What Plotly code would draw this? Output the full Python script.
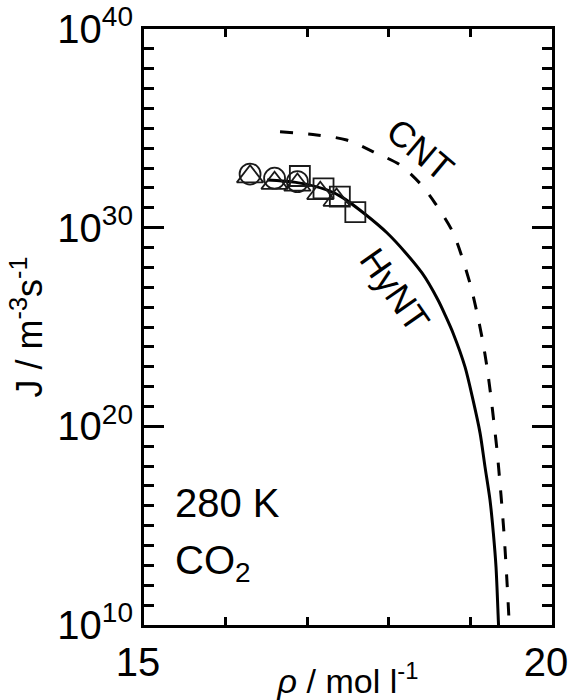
import plotly.graph_objects as go

# HyNT (solid) curve: density (mol/l) vs log10 J
hynt_rho = [16.51, 16.86, 17.24, 17.44, 17.98, 18.407, 18.603, 18.701, 18.787, 18.934, 19.032, 19.118, 19.179, 19.240, 19.281, 19.314, 19.342, 19.35]
hynt_logJ = [32.40, 32.28, 31.90, 31.50, 29.73, 27.72, 26.36, 25.51, 24.70, 22.99, 21.33, 19.67, 17.96, 16.30, 14.64, 12.92, 10.26, 9.5]

# CNT (dashed) curve
cnt_rho = [16.667, 17.116, 17.484, 17.810, 18.137, 18.382, 18.566, 18.790, 18.995, 19.081, 19.148, 19.203, 19.252, 19.289, 19.326, 19.359, 19.387, 19.415, 19.452, 19.473, 19.48]
cnt_logJ = [34.83, 34.67, 34.41, 33.82, 33.16, 32.23, 31.24, 29.73, 27.20, 25.71, 24.35, 22.99, 21.48, 20.17, 18.81, 17.30, 15.94, 14.43, 11.92, 10.26, 9.5]

# simulation points
circ_rho = [16.30, 16.60, 16.88]
circ_logJ = [32.70, 32.49, 32.32]
tri_rho = [16.30, 16.60, 16.88, 17.16, 17.36]
tri_logJ = [32.57, 32.24, 32.15, 31.73, 31.39]
sq_rho = [16.91, 17.20, 17.40, 17.59]
sq_logJ = [32.60, 31.98, 31.56, 30.78]

y_major = [10, 20, 30, 40]
y_labels = ["10<sup>%d</sup>" % e for e in y_major]
x_major = [15, 20]
x_labels = ["15", "20"]
x_minor = [16, 17, 18, 19]

FONT = "Liberation Sans, Arial, sans-serif"

def p10(v):
    return [10.0 ** e for e in v]

fig = go.Figure()
fig.add_trace(go.Scatter(x=cnt_rho, y=p10(cnt_logJ), mode="lines", line=dict(color="black", width=3, dash="13px,15px", shape="spline", smoothing=0.8), hoverinfo="skip"))
fig.add_trace(go.Scatter(x=hynt_rho, y=p10(hynt_logJ), mode="lines", line=dict(color="black", width=3, shape="spline", smoothing=0.8), hoverinfo="skip"))
fig.add_trace(go.Scatter(x=circ_rho, y=p10(circ_logJ), mode="markers", marker=dict(symbol="circle-open", size=21, color="#1a1a1a", line=dict(width=1.8, color="#1a1a1a"))))
fig.add_trace(go.Scatter(x=tri_rho, y=p10(tri_logJ), mode="markers", marker=dict(symbol="triangle-up-open", size=23, color="#1a1a1a", line=dict(width=1.8, color="#1a1a1a"))))
fig.add_trace(go.Scatter(x=sq_rho, y=p10(sq_logJ), mode="markers", marker=dict(symbol="square-open", size=20, color="#1a1a1a", line=dict(width=1.8, color="#1a1a1a"))))

fig.update_layout(
    width=571, height=700,
    margin=dict(l=144, r=19, t=29, b=75, autoexpand=False),
    paper_bgcolor="white", plot_bgcolor="white",
    showlegend=False,
    font=dict(family=FONT, color="black", size=36),
    xaxis=dict(
        range=[15, 20], showgrid=False, zeroline=False, automargin=False,
        showline=True, linewidth=3, linecolor="black", mirror="allticks",
        ticks="inside", tickmode="array", tickvals=x_major, ticktext=x_labels,
        ticklen=8, tickwidth=2.5, tickcolor="black", ticklabeloverflow="allow",
        ticklabelshift=-6,
        tickfont=dict(size=40),
        minor=dict(tickmode="array", tickvals=x_minor, ticks="inside", ticklen=8, tickwidth=2.5, tickcolor="black", showgrid=False),
        title=dict(text="<i>ρ</i> / mol l<sup>-1</sup>", font=dict(size=34), standoff=0),
    ),
    yaxis=dict(
        type="log", range=[10, 40], showgrid=False, zeroline=False, automargin=False,
        showline=True, linewidth=3, linecolor="black", mirror="allticks",
        ticks="inside", tickmode="array", tickvals=p10(y_major), ticktext=y_labels,
        ticklen=20, tickwidth=2.5, tickcolor="black", ticklabeloverflow="allow",
        tickfont=dict(size=40),
        minor=dict(tickmode="array", tickvals=[10.0 ** k for k in range(11, 40) if k % 10], ticks="inside", ticklen=10, tickwidth=2.5, tickcolor="black", showgrid=False),
        title=dict(text="J / m<sup>-3</sup>s<sup>-1</sup>", font=dict(size=36), standoff=4),
    ),
)

fig.add_annotation(x=18.38, y=33.91, xref="x", yref="y", text="CNT", showarrow=False, textangle=40, font=dict(size=36))
fig.add_annotation(x=18.08, y=26.86, xref="x", yref="y", text="HyNT", showarrow=False, textangle=55, font=dict(size=36))
fig.add_annotation(x=0.071, y=16.14, xref="paper", yref="y", xanchor="left", yanchor="middle", text="280 K", showarrow=False, font=dict(size=40))
fig.add_annotation(x=0.071, y=13.1, xref="paper", yref="y", xanchor="left", yanchor="middle", text="CO<sub>2</sub>", showarrow=False, font=dict(size=40))

fig.write_html("out.html")
